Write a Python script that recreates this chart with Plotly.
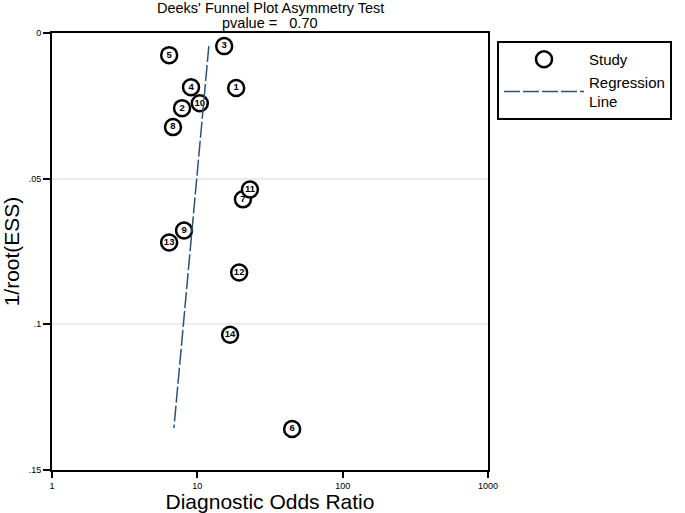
import plotly.graph_objects as go

# Study data
study_ids = ["1", "2", "3", "4", "5", "6", "7", "8", "9", "10", "11", "12", "13", "14"]
dor = [18.5, 7.85, 15.3, 9.05, 6.4, 44.9, 20.6, 6.8, 8.1, 10.4, 23.0, 19.4, 6.4, 16.8]
inv_root_ess = [0.0189, 0.0258, 0.0045, 0.0186, 0.0076, 0.1359, 0.0571, 0.0323,
                0.0678, 0.0241, 0.0537, 0.0822, 0.0719, 0.1036]

# Regression line end points
reg_x = [12.0, 6.9]
reg_y = [0.0045, 0.1356]

x_tick_vals = [1, 10, 100, 1000]
x_tick_text = ["1", "10", "100", "1000"]
y_tick_vals = [0, 0.05, 0.1, 0.15]
y_tick_text = ["0", ".05", ".1", ".15"]

title_line1 = "Deeks' Funnel Plot Asymmetry Test"
title_line2 = "pvalue =\u00a0\u00a0\u00a00.70"

FONT = "Liberation Sans, Arial, sans-serif"
W, H = 685, 513
L, R, T, B = 52, 197, 33, 43
PW = W - L - R
PH = H - T - B

fig = go.Figure()
fig.add_trace(go.Scatter(
    x=dor, y=inv_root_ess, mode="markers+text", text=study_ids,
    textposition="middle center",
    textfont=dict(size=9.5, color="black", family=FONT, weight="bold"),
    marker=dict(size=16, color="white", line=dict(color="black", width=2.5)),
    name="Study", cliponaxis=False,
))
fig.add_trace(go.Scatter(
    x=reg_x, y=reg_y, mode="lines",
    line=dict(color="#2b5278", width=1.5, dash="16px,3px"),
    name="Regression<br>Line",
))

fig.update_layout(
    width=W, height=H,
    margin=dict(l=L, r=R, t=T, b=B),
    paper_bgcolor="white", plot_bgcolor="white",
    font=dict(family=FONT, color="black"),
    annotations=[
        dict(text=title_line1, xref="paper", yref="paper", x=0.5, y=1 + (T - 7.5) / PH,
             xanchor="center", yanchor="middle", showarrow=False,
             font=dict(size=14.5, color="black", family=FONT)),
        dict(text=title_line2, xref="paper", yref="paper", x=0.5, y=1 + (T - 23.5) / PH,
             xanchor="center", yanchor="middle", showarrow=False,
             font=dict(size=14.5, color="black", family=FONT)),
    ],
    showlegend=True,
    legend=dict(x=1 + 9 / PW, xanchor="left", y=1 - 8 / PH, yanchor="top",
                bordercolor="black", borderwidth=2, bgcolor="white",
                font=dict(size=15, family=FONT), itemwidth=80,
                tracegroupgap=0),
)
fig.update_xaxes(
    type="log", range=[0, 3], tickvals=x_tick_vals, ticktext=x_tick_text,
    ticks="outside", ticklen=6, tickwidth=1.5, tickcolor="black",
    tickfont=dict(size=9), showline=True, linecolor="black", linewidth=2,
    mirror=True, showgrid=False, zeroline=False, automargin=False,
    title=dict(text="Diagnostic Odds Ratio", font=dict(size=21), standoff=3),
)
fig.update_yaxes(
    range=[0.15, 0], tickvals=y_tick_vals, ticktext=y_tick_text,
    ticks="outside", ticklen=7, tickwidth=1.5, tickcolor="black",
    tickfont=dict(size=9), showline=True, linecolor="black", linewidth=2,
    mirror=True, showgrid=True, gridcolor="#e6edf3", gridwidth=1.5, zeroline=False,
    automargin=False,
    title=dict(text="1/root(ESS)", font=dict(size=21), standoff=6),
)

fig.write_html("out.html", config={"displayModeBar": False},
               post_script="document.body.style.margin='0';")
